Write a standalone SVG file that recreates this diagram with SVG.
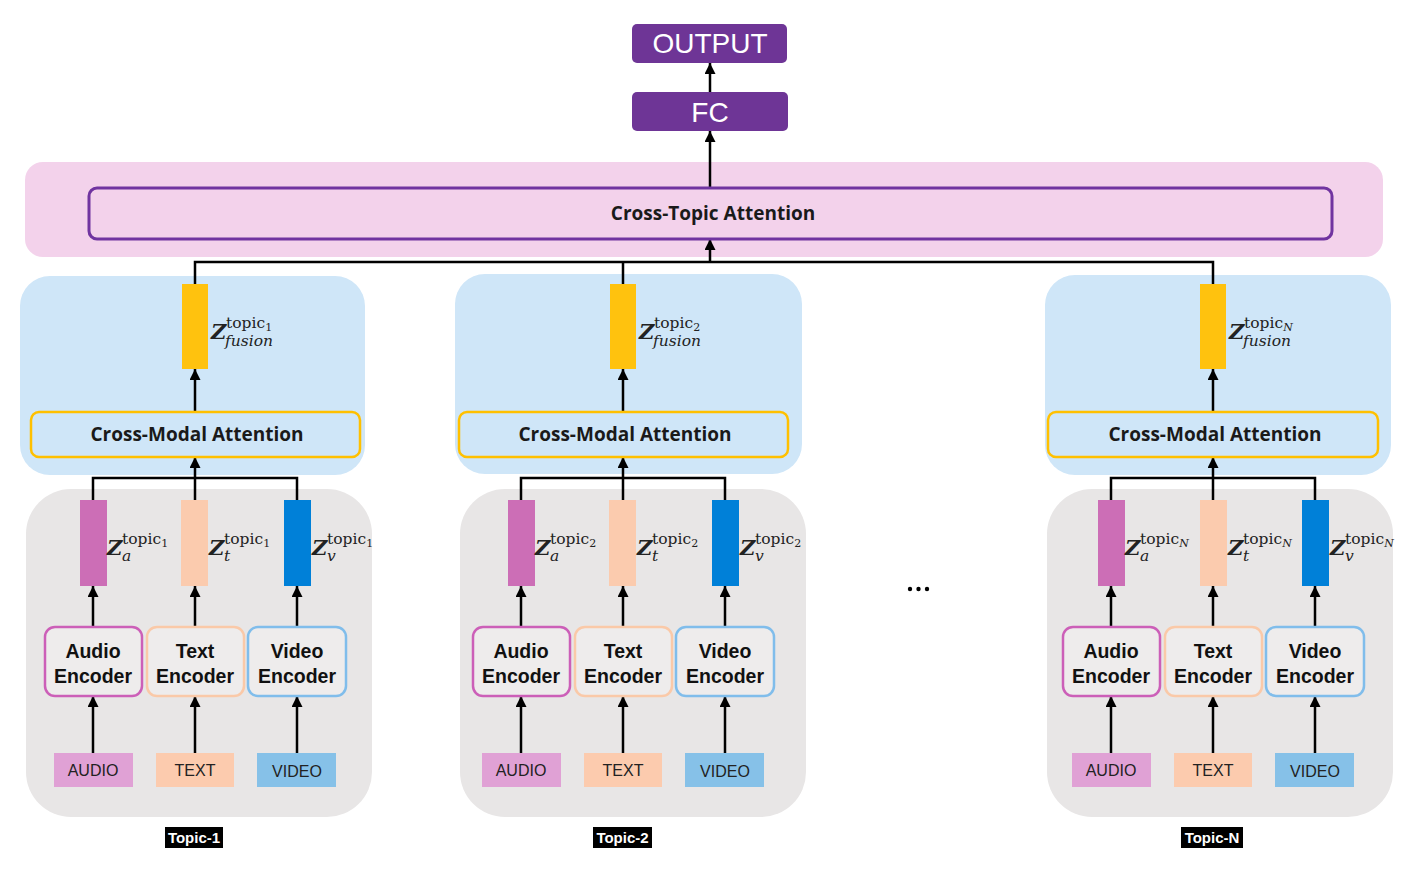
<svg xmlns="http://www.w3.org/2000/svg" width="1406" height="896" viewBox="0 0 1406 896">
<style>
.bg{fill:#ffffff}
.pink{fill:#F3D2EB}
.blue{fill:#CFE6F8}
.gray{fill:#E8E6E6}
.ct{fill:#F3D2EB;stroke:#7034A0;stroke-width:3}
.cma{fill:#CFE6F8;stroke:#FFC000;stroke-width:2.5}
.purple{fill:#6E3596}
.fus{fill:#FFC20E}
.ba{fill:#CC6EB6}
.bt{fill:#FBCBAE}
.bv{fill:#0080D8}
.ea{fill:#EEECEC;stroke:#CC5FB8;stroke-width:2.5}
.et{fill:#EEECEC;stroke:#FAC9A8;stroke-width:2.5}
.ev{fill:#EEECEC;stroke:#80BDEB;stroke-width:2.5}
.ia{fill:#E0A1D5}
.it{fill:#FCCBAE}
.iv{fill:#86C1E8}
.ln{fill:none;stroke:#000;stroke-width:2.5}
.arr{fill:none;stroke:#000;stroke-width:2.5;marker-end:url(#ah)}
.bold{font-family:"Open Sans","Liberation Sans",sans-serif;font-weight:700;font-size:19px;fill:#1a1a1a;text-anchor:middle}
.enc{font-family:"Liberation Sans",Arial,sans-serif;font-weight:700;font-size:19.5px;fill:#111;text-anchor:middle}
.inp{font-family:"Liberation Sans",Arial,sans-serif;font-size:16px;fill:#222;text-anchor:middle}
.big{font-family:"Liberation Sans",Arial,sans-serif;font-size:28px;fill:#fff;text-anchor:middle}
.tl{font-family:"Liberation Sans",Arial,sans-serif;font-weight:700;font-size:15px;fill:#fff;text-anchor:middle}
.mz{font-family:"DejaVu Serif",serif;font-weight:700;font-style:italic;font-size:21px;fill:#222}
.ms{font-family:"DejaVu Serif",serif;font-size:15.5px;fill:#222}
.mi{font-family:"DejaVu Serif",serif;font-style:italic;font-size:15.5px;fill:#222}
.sub{font-size:11px}
</style>
<defs>
<marker id="ah" markerUnits="userSpaceOnUse" markerWidth="11" markerHeight="11" viewBox="0 0 10 10" refX="10" refY="5" orient="auto">
<path d="M0,0 L10,5 L0,10 z" fill="#000"/>
</marker>
</defs>
<rect class="bg" x="0" y="0" width="1406" height="896"/>

<!-- panels -->
<g id="panels">
<rect class="pink" x="25" y="162" width="1358" height="95" rx="18"/>
<rect class="blue" x="20" y="276" width="345" height="199" rx="30"/>
<rect class="blue" x="455" y="274" width="347" height="200" rx="30"/>
<rect class="blue" x="1045" y="275" width="346" height="200" rx="30"/>
<rect class="gray" x="26" y="489" width="346" height="328" rx="45"/>
<rect class="gray" x="460" y="489" width="346" height="328" rx="45"/>
<rect class="gray" x="1047" y="489" width="346" height="328" rx="45"/>
</g>

<!-- connectors -->
<g id="connectors">
<line class="arr" x1="710" y1="92" x2="710" y2="63"/>
<line class="arr" x1="710" y1="188" x2="710" y2="131"/>
<path class="ln" d="M195,284 V262 H1213 V284 M623,284 V262"/>
<line class="arr" x1="710" y1="262" x2="710" y2="239"/>
<!-- topic 1 -->
<line class="arr" x1="195" y1="412" x2="195" y2="369"/>
<path class="ln" d="M93,500 V478 H297 V500 M195,500 V478"/>
<line class="arr" x1="195" y1="478" x2="195" y2="457"/>
<line class="arr" x1="93" y1="627" x2="93" y2="586"/>
<line class="arr" x1="195" y1="627" x2="195" y2="586"/>
<line class="arr" x1="297" y1="627" x2="297" y2="586"/>
<line class="arr" x1="93" y1="753" x2="93" y2="696"/>
<line class="arr" x1="195" y1="753" x2="195" y2="696"/>
<line class="arr" x1="297" y1="753" x2="297" y2="696"/>
<!-- topic 2 -->
<line class="arr" x1="623" y1="412" x2="623" y2="369"/>
<path class="ln" d="M521,500 V478 H725 V500 M623,500 V478"/>
<line class="arr" x1="623" y1="478" x2="623" y2="457"/>
<line class="arr" x1="521" y1="627" x2="521" y2="586"/>
<line class="arr" x1="623" y1="627" x2="623" y2="586"/>
<line class="arr" x1="725" y1="627" x2="725" y2="586"/>
<line class="arr" x1="521" y1="753" x2="521" y2="696"/>
<line class="arr" x1="623" y1="753" x2="623" y2="696"/>
<line class="arr" x1="725" y1="753" x2="725" y2="696"/>
<!-- topic N -->
<line class="arr" x1="1213" y1="412" x2="1213" y2="369"/>
<path class="ln" d="M1111,500 V478 H1315 V500 M1213,500 V478"/>
<line class="arr" x1="1213" y1="478" x2="1213" y2="457"/>
<line class="arr" x1="1111" y1="627" x2="1111" y2="586"/>
<line class="arr" x1="1213" y1="627" x2="1213" y2="586"/>
<line class="arr" x1="1315" y1="627" x2="1315" y2="586"/>
<line class="arr" x1="1111" y1="753" x2="1111" y2="696"/>
<line class="arr" x1="1213" y1="753" x2="1213" y2="696"/>
<line class="arr" x1="1315" y1="753" x2="1315" y2="696"/>
</g>

<!-- top nodes -->
<g id="output">
<rect class="purple" x="632" y="24" width="155" height="39" rx="5"/>
<text class="big" x="710" y="53">OUTPUT</text>
</g>
<g id="fc">
<rect class="purple" x="632" y="92" width="156" height="39" rx="5"/>
<text class="big" x="710" y="122">FC</text>
</g>
<g id="cross-topic">
<rect class="ct" x="89" y="188" width="1243" height="51" rx="8"/>
<text class="bold" x="713" y="220">Cross-Topic Attention</text>
</g>

<!-- topic 1 -->
<g id="t1-cma">
<rect class="cma" x="31" y="412" width="329" height="45" rx="8"/>
<text class="bold" x="197" y="441">Cross-Modal Attention</text>
</g>
<g id="t1-fusion">
<rect class="fus" x="182" y="284" width="26" height="85"/>
<text class="mz" x="211" y="339">Z</text>
<text class="ms" x="226" y="328">topic<tspan class="sub" dy="3">1</tspan></text>
<text class="mi" x="225" y="346">fusion</text>
</g>
<g id="t1-za">
<rect class="ba" x="80" y="500" width="27" height="86"/>
<text class="mz" x="107" y="555">Z</text>
<text class="ms" x="122" y="544">topic<tspan class="sub" dy="3">1</tspan></text>
<text class="mi" x="122" y="561">a</text>
</g>
<g id="t1-zt">
<rect class="bt" x="181" y="500" width="27" height="86"/>
<text class="mz" x="209" y="555">Z</text>
<text class="ms" x="224" y="544">topic<tspan class="sub" dy="3">1</tspan></text>
<text class="mi" x="224" y="561">t</text>
</g>
<g id="t1-zv">
<rect class="bv" x="284" y="500" width="27" height="86"/>
<text class="mz" x="312" y="555">Z</text>
<text class="ms" x="327" y="544">topic<tspan class="sub" dy="3">1</tspan></text>
<text class="mi" x="327" y="561">v</text>
</g>
<g id="t1-audio-enc">
<rect class="ea" x="45" y="627" width="97" height="69" rx="10"/>
<text class="enc" x="93" y="658">Audio</text>
<text class="enc" x="93" y="683">Encoder</text>
</g>
<g id="t1-text-enc">
<rect class="et" x="147" y="627" width="97" height="69" rx="10"/>
<text class="enc" x="195" y="658">Text</text>
<text class="enc" x="195" y="683">Encoder</text>
</g>
<g id="t1-video-enc">
<rect class="ev" x="248" y="627" width="98" height="69" rx="10"/>
<text class="enc" x="297" y="658">Video</text>
<text class="enc" x="297" y="683">Encoder</text>
</g>
<g id="t1-audio"><rect class="ia" x="54" y="753" width="79" height="34"/><text class="inp" x="93" y="776">AUDIO</text></g>
<g id="t1-text"><rect class="it" x="156" y="753" width="78" height="34"/><text class="inp" x="195" y="776">TEXT</text></g>
<g id="t1-video"><rect class="iv" x="257" y="753" width="79" height="34"/><text class="inp" x="297" y="777">VIDEO</text></g>
<g id="t1-label"><rect x="165" y="827" width="58" height="21" fill="#000"/><text class="tl" x="194" y="843">Topic-1</text></g>

<!-- topic 2 -->
<g id="t2-cma">
<rect class="cma" x="459" y="412" width="329" height="45" rx="8"/>
<text class="bold" x="625" y="441">Cross-Modal Attention</text>
</g>
<g id="t2-fusion">
<rect class="fus" x="610" y="284" width="26" height="85"/>
<text class="mz" x="639" y="339">Z</text>
<text class="ms" x="654" y="328">topic<tspan class="sub" dy="3">2</tspan></text>
<text class="mi" x="653" y="346">fusion</text>
</g>
<g id="t2-za">
<rect class="ba" x="508" y="500" width="27" height="86"/>
<text class="mz" x="535" y="555">Z</text>
<text class="ms" x="550" y="544">topic<tspan class="sub" dy="3">2</tspan></text>
<text class="mi" x="550" y="561">a</text>
</g>
<g id="t2-zt">
<rect class="bt" x="609" y="500" width="27" height="86"/>
<text class="mz" x="637" y="555">Z</text>
<text class="ms" x="652" y="544">topic<tspan class="sub" dy="3">2</tspan></text>
<text class="mi" x="652" y="561">t</text>
</g>
<g id="t2-zv">
<rect class="bv" x="712" y="500" width="27" height="86"/>
<text class="mz" x="740" y="555">Z</text>
<text class="ms" x="755" y="544">topic<tspan class="sub" dy="3">2</tspan></text>
<text class="mi" x="755" y="561">v</text>
</g>
<g id="t2-audio-enc">
<rect class="ea" x="473" y="627" width="97" height="69" rx="10"/>
<text class="enc" x="521" y="658">Audio</text>
<text class="enc" x="521" y="683">Encoder</text>
</g>
<g id="t2-text-enc">
<rect class="et" x="575" y="627" width="97" height="69" rx="10"/>
<text class="enc" x="623" y="658">Text</text>
<text class="enc" x="623" y="683">Encoder</text>
</g>
<g id="t2-video-enc">
<rect class="ev" x="676" y="627" width="98" height="69" rx="10"/>
<text class="enc" x="725" y="658">Video</text>
<text class="enc" x="725" y="683">Encoder</text>
</g>
<g id="t2-audio"><rect class="ia" x="482" y="753" width="79" height="34"/><text class="inp" x="521" y="776">AUDIO</text></g>
<g id="t2-text"><rect class="it" x="584" y="753" width="78" height="34"/><text class="inp" x="623" y="776">TEXT</text></g>
<g id="t2-video"><rect class="iv" x="685" y="753" width="79" height="34"/><text class="inp" x="725" y="777">VIDEO</text></g>
<g id="t2-label"><rect x="593" y="827" width="59" height="21" fill="#000"/><text class="tl" x="622.5" y="843">Topic-2</text></g>

<!-- ellipsis -->
<g id="ellipsis">
<circle cx="910" cy="589" r="2.2" fill="#000"/>
<circle cx="918.5" cy="589" r="2.2" fill="#000"/>
<circle cx="927" cy="589" r="2.2" fill="#000"/>
</g>

<!-- topic N -->
<g id="tn-cma">
<rect class="cma" x="1048" y="412" width="330" height="45" rx="8"/>
<text class="bold" x="1215" y="441">Cross-Modal Attention</text>
</g>
<g id="tn-fusion">
<rect class="fus" x="1200" y="284" width="26" height="85"/>
<text class="mz" x="1229" y="339">Z</text>
<text class="ms" x="1244" y="328">topic<tspan class="sub" dy="3" font-style="italic">N</tspan></text>
<text class="mi" x="1243" y="346">fusion</text>
</g>
<g id="tn-za">
<rect class="ba" x="1098" y="500" width="27" height="86"/>
<text class="mz" x="1125" y="555">Z</text>
<text class="ms" x="1140" y="544">topic<tspan class="sub" dy="3" font-style="italic">N</tspan></text>
<text class="mi" x="1140" y="561">a</text>
</g>
<g id="tn-zt">
<rect class="bt" x="1200" y="500" width="27" height="86"/>
<text class="mz" x="1228" y="555">Z</text>
<text class="ms" x="1243" y="544">topic<tspan class="sub" dy="3" font-style="italic">N</tspan></text>
<text class="mi" x="1243" y="561">t</text>
</g>
<g id="tn-zv">
<rect class="bv" x="1302" y="500" width="27" height="86"/>
<text class="mz" x="1330" y="555">Z</text>
<text class="ms" x="1345" y="544">topic<tspan class="sub" dy="3" font-style="italic">N</tspan></text>
<text class="mi" x="1345" y="561">v</text>
</g>
<g id="tn-audio-enc">
<rect class="ea" x="1063" y="627" width="97" height="69" rx="10"/>
<text class="enc" x="1111" y="658">Audio</text>
<text class="enc" x="1111" y="683">Encoder</text>
</g>
<g id="tn-text-enc">
<rect class="et" x="1165" y="627" width="97" height="69" rx="10"/>
<text class="enc" x="1213" y="658">Text</text>
<text class="enc" x="1213" y="683">Encoder</text>
</g>
<g id="tn-video-enc">
<rect class="ev" x="1266" y="627" width="98" height="69" rx="10"/>
<text class="enc" x="1315" y="658">Video</text>
<text class="enc" x="1315" y="683">Encoder</text>
</g>
<g id="tn-audio"><rect class="ia" x="1072" y="753" width="79" height="34"/><text class="inp" x="1111" y="776">AUDIO</text></g>
<g id="tn-text"><rect class="it" x="1174" y="753" width="78" height="34"/><text class="inp" x="1213" y="776">TEXT</text></g>
<g id="tn-video"><rect class="iv" x="1275" y="753" width="79" height="34"/><text class="inp" x="1315" y="777">VIDEO</text></g>
<g id="tn-label"><rect x="1181" y="827" width="62" height="21" fill="#000"/><text class="tl" x="1212" y="843">Topic-N</text></g>
</svg>
